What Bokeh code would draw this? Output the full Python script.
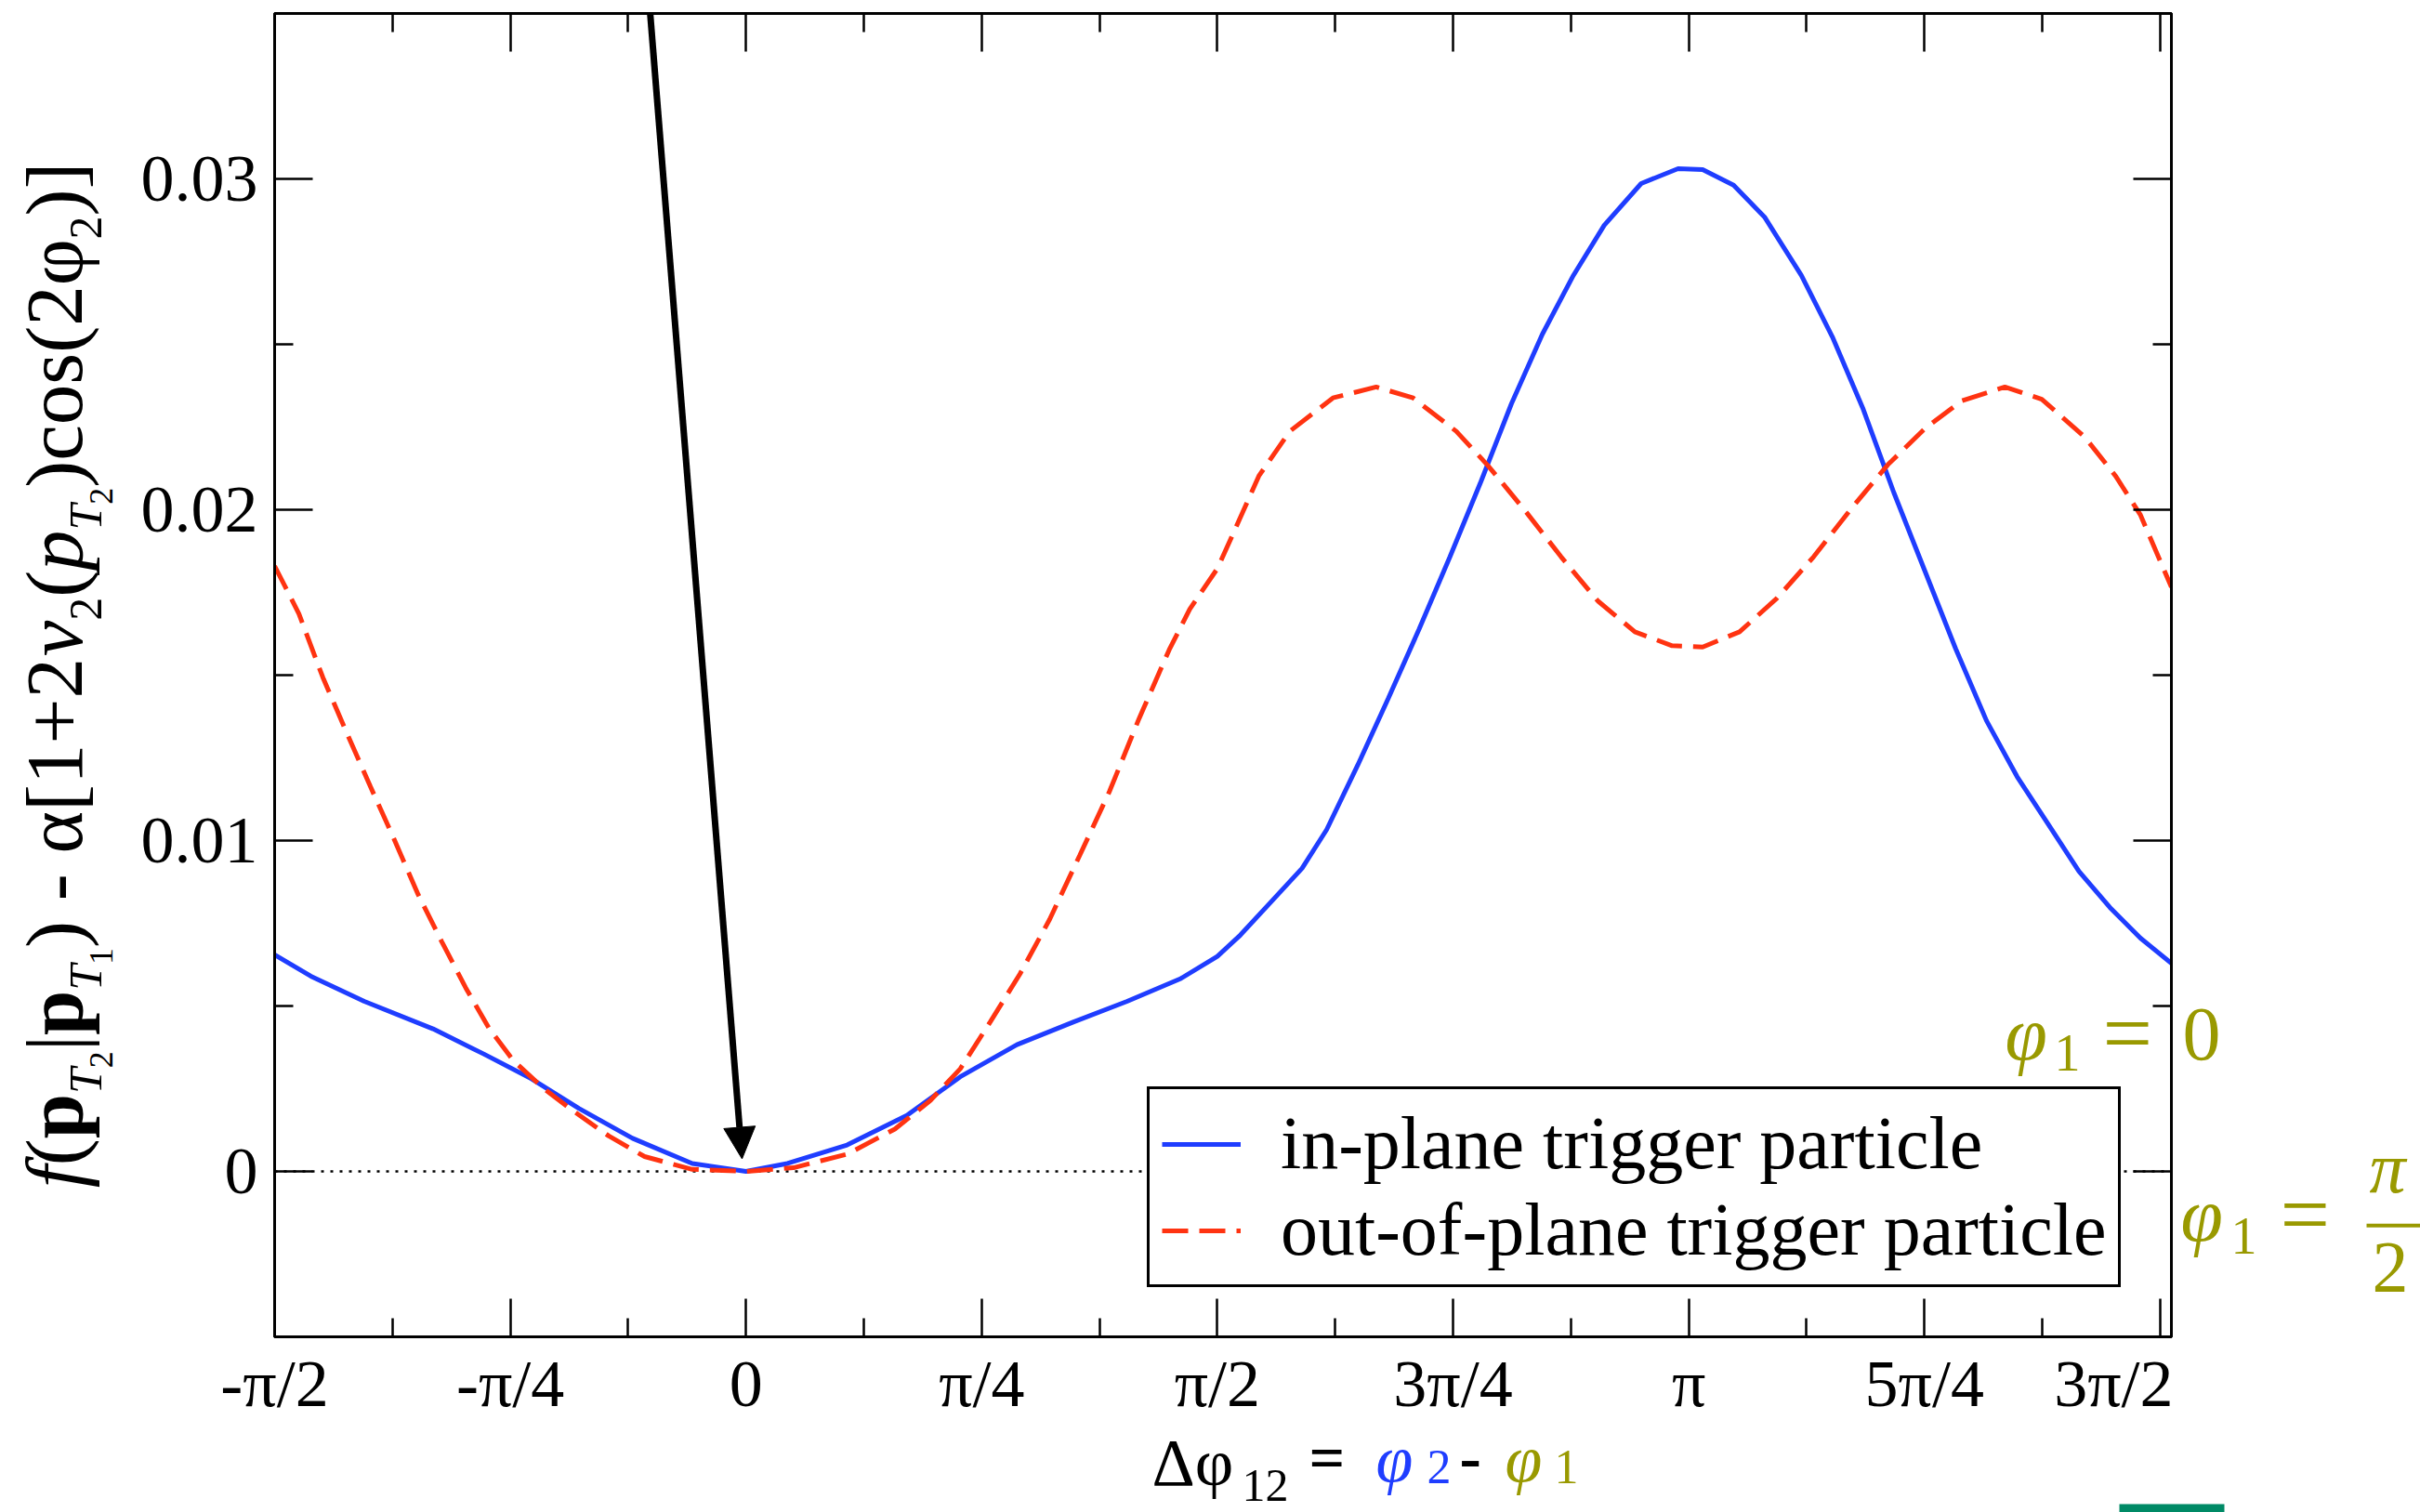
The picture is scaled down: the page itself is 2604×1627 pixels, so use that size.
import math
from bokeh.plotting import figure
from bokeh.layouts import row, column
from bokeh.models import (FixedTicker, LinearAxis, Range1d, Span, Label, Arrow,
                          NormalHead, Legend, LegendItem, BoxAnnotation)
from bokeh.embed import file_html
from bokeh.resources import INLINE

PI = math.pi

# ---------------- data ----------------
in_plane_dphi = [-1.5708, -1.450, -1.272, -1.043, -0.874, -0.715, -0.556, -0.378, -0.179, 0.0,
                 0.138, 0.337, 0.536, 0.714, 0.903, 1.092, 1.270, 1.449, 1.5708, 1.647,
                 1.750, 1.853, 1.935, 2.038, 2.140, 2.243, 2.346, 2.449, 2.551, 2.654,
                 2.757, 2.860, 2.983, 3.106, 3.188, 3.291, 3.394, 3.517, 3.620, 3.723,
                 3.825, 3.928, 4.031, 4.134, 4.236, 4.339, 4.442, 4.545, 4.647, 4.750]
in_plane_val = [0.00655, 0.00590, 0.00514, 0.00431, 0.00355, 0.00280, 0.00190, 0.00100, 0.00024, 0.0,
                0.00024, 0.00080, 0.00169, 0.00286, 0.00383, 0.00452, 0.00514, 0.00583, 0.00650, 0.00714,
                0.00815, 0.00916, 0.01033, 0.01227, 0.01429, 0.01639, 0.01858, 0.02085, 0.02321, 0.02531,
                0.02708, 0.02860, 0.02986, 0.03031, 0.03028, 0.02981, 0.02885, 0.02708, 0.02523, 0.02304,
                0.02052, 0.01816, 0.01580, 0.01362, 0.01193, 0.01050, 0.00907, 0.00798, 0.00705, 0.00629]

out_plane_dphi = [-1.5708, -1.490, -1.410, -1.331, -1.251, -1.172, -1.093, -1.013, -0.934, -0.855,
                  -0.775, -0.676, -0.576, -0.457, -0.338, -0.179, 0.0, 0.158, 0.337, 0.496,
                  0.615, 0.714, 0.814, 0.913, 1.012, 1.112, 1.211, 1.310, 1.410, 1.479,
                  1.5708, 1.627, 1.709, 1.812, 1.956, 2.100, 2.223, 2.367, 2.470, 2.593,
                  2.716, 2.839, 2.962, 3.086, 3.188, 3.311, 3.435, 3.558, 3.681, 3.805,
                  3.928, 4.051, 4.195, 4.318, 4.461, 4.564, 4.647, 4.750]
out_plane_val = [0.01830, 0.01686, 0.01493, 0.01327, 0.01162, 0.01003, 0.00838, 0.00693, 0.00555, 0.00431,
                 0.00335, 0.00252, 0.00183, 0.00107, 0.00045, 0.00006, 0.0, 0.00011, 0.00052, 0.00128,
                 0.00215, 0.00310, 0.00452, 0.00597, 0.00762, 0.00955, 0.01148, 0.01369, 0.01576, 0.01700,
                 0.01822, 0.01935, 0.02102, 0.02237, 0.02338, 0.02371, 0.02338, 0.02237, 0.02136, 0.02001,
                 0.01858, 0.01724, 0.01631, 0.01589, 0.01585, 0.01631, 0.01732, 0.01858, 0.02001, 0.02136,
                 0.02245, 0.02329, 0.02371, 0.02334, 0.02220, 0.02102, 0.01984, 0.01766]

series_labels = ["in-plane trigger particle", "out-of-plane trigger particle"]

x_tick_values = [-PI / 2, -PI / 4, 0.0, PI / 4, PI / 2, 3 * PI / 4, PI, 5 * PI / 4, 3 * PI / 2]
x_tick_labels = ["-π/2", "-π/4", "0", "π/4", "π/2", "3π/4", "π", "5π/4", "3π/2"]
x_minor_values = [-3 * PI / 8 + k * PI / 4 for k in range(8)]
y_tick_values = [0.0, 0.01, 0.02, 0.03]
y_tick_labels = ["0", "0.01", "0.02", "0.03"]
y_minor_values = [-0.005, 0.005, 0.015, 0.025, 0.035]

arrow_x = [-0.3227, -0.0131]
arrow_y = [0.03539, 0.00038]

X_MIN, X_MAX = -PI / 2, 4.75
Y_MIN, Y_MAX = -0.005, 0.035

# ---------------- layout (window pixels) ----------------
W_TOTAL, H_TOTAL = 2604, 1627
LEFT_W = 140
TOP_H = 1531
FRAME_L, FRAME_T, FRAME_W, FRAME_H = 295, 14, 2041, 1427
FRAME_B = FRAME_T + FRAME_H
MAIN_W = FRAME_L - LEFT_W + FRAME_W + 2
RIGHT_X0 = LEFT_W + MAIN_W
RIGHT_W = W_TOTAL - RIGHT_X0
PX_X = FRAME_W / (X_MAX - X_MIN)
PX_Y = FRAME_H / (Y_MAX - Y_MIN)
CORR = 0.37   # baseline correction (fraction of font size)


def dx(X):
    return X_MIN + (X - FRAME_L) / PX_X


def dy(Y):
    return Y_MIN + (FRAME_B - Y) / PX_Y


SERIF = "Liberation Serif"
BLUE = "#1f3dff"
RED = "#ff3311"
OLIVE = "#999900"

p = figure(width=MAIN_W, height=TOP_H,
           min_border_left=FRAME_L - LEFT_W, min_border_top=FRAME_T,
           min_border_right=2, min_border_bottom=TOP_H - FRAME_B,
           x_range=Range1d(X_MIN, X_MAX), y_range=Range1d(Y_MIN, Y_MAX),
           output_backend="svg", toolbar_location=None)
p.xgrid.visible = False
p.ygrid.visible = False
p.outline_line_color = "black"
p.outline_line_width = 3


def style_axis(ax, ticks, minor, labels, show_labels, standoff):
    ax.ticker = FixedTicker(ticks=ticks, minor_ticks=minor)
    ax.axis_line_color = "black"
    ax.axis_line_width = 3
    ax.major_tick_in = 41
    ax.major_tick_out = 0
    ax.minor_tick_in = 20
    ax.minor_tick_out = 0
    ax.major_tick_line_width = 2.5
    ax.minor_tick_line_width = 2.5
    ax.major_tick_line_color = "black"
    ax.minor_tick_line_color = "black"
    if show_labels:
        ax.major_label_overrides = {t: l for t, l in zip(ticks, labels)}
        ax.major_label_text_font = SERIF
        ax.major_label_text_font_size = "72px"
        ax.major_label_text_color = "black"
        ax.major_label_standoff = standoff
    else:
        ax.major_label_overrides = {t: "" for t in ticks}
        ax.major_label_text_font_size = "0px"
        ax.major_label_standoff = 0


style_axis(p.xaxis[0], x_tick_values, x_minor_values, x_tick_labels, True, 10)
style_axis(p.yaxis[0], y_tick_values, y_minor_values, y_tick_labels, True, 18)
top_ax = LinearAxis()
right_ax = LinearAxis()
style_axis(top_ax, x_tick_values, x_minor_values, x_tick_labels, False, 0)
style_axis(right_ax, y_tick_values, y_minor_values, y_tick_labels, False, 0)
p.add_layout(top_ax, "above")
p.add_layout(right_ax, "right")

# dotted zero line
p.add_layout(Span(location=0, dimension="width", line_color="black", line_width=2.5,
                  line_dash="3 7", level="underlay"))

r_in = p.line(in_plane_dphi, in_plane_val, line_color=BLUE, line_width=5)
r_out = p.line(out_plane_dphi, out_plane_val, line_color=RED, line_width=5, line_dash="28 12")

legend = Legend(items=[LegendItem(label=series_labels[0], renderers=[r_in]),
                       LegendItem(label=series_labels[1], renderers=[r_out])],
                location=(1234 - FRAME_L, FRAME_B - 1388), margin=0,
                padding=13, spacing=2, glyph_width=85, glyph_height=80, label_height=80,
                label_standoff=43, label_text_font=SERIF, label_text_font_size="80px",
                label_text_color="black", border_line_color="black", border_line_width=3,
                border_line_alpha=1.0, background_fill_color="white", background_fill_alpha=1.0)
p.add_layout(legend)

# arrow pointing at the minimum
p.add_layout(Arrow(x_start=arrow_x[0], y_start=arrow_y[0], x_end=arrow_x[1], y_end=arrow_y[1],
                   line_color="black", line_width=7,
                   end=NormalHead(size=34, fill_color="black", line_color="black")))


def add_label(fig, X, Y, text, size, color="black", style="normal", rotated=False, main=False):
    """X, Y: window pixels of the text baseline start."""
    if rotated:
        X = X - CORR * size
    else:
        Y = Y - CORR * size
    if main:
        x, y = dx(X), dy(Y)
    else:
        x, y = X, Y
    fig.add_layout(Label(x=x, y=y, text=text, text_font=SERIF, text_font_size=f"{size}px",
                         text_font_style=style, text_color=color,
                         angle=PI / 2 if rotated else 0.0,
                         text_align="left", text_baseline="alphabetic"))


# "phi_1 = " part of the first annotation sits inside the frame
add_label(p, 2157, 1145, "φ", 82, OLIVE, "italic", main=True)
add_label(p, 2210, 1156, "1", 56, OLIVE, main=True)
add_label(p, 2262, 1149, "=", 95, OLIVE, main=True)


def strip(w, x0, y_top, y_bot, h):
    f = figure(width=w, height=h, x_range=Range1d(x0, x0 + w), y_range=Range1d(y_bot, y_top),
               x_axis_location=None, y_axis_location=None, min_border=0,
               output_backend="svg", toolbar_location=None)
    f.outline_line_color = None
    f.grid.visible = False
    f.background_fill_color = "white"
    f.border_fill_color = "white"
    return f


# ---------------- left strip: rotated y title ----------------
L = strip(LEFT_W, 0, FRAME_T, FRAME_B, TOP_H)
W_ROMAN = {"(": 333, ")": 333, "[": 333, "]": 333, "|": 200, "-": 333, " ": 250, "+": 564,
           "1": 500, "2": 500, "c": 444, "o": 500, "s": 389, "α": 550, "φ": 580}
W_ITAL = {"f": 278, "T": 556, "v": 444, "p": 500}
W_BOLD = {"p": 556}
F, S, SS = 87, 50, 36
d1, d2 = 20, 32
pieces = [("f", "italic", F, 0), ("(", "normal", F, 0), ("p", "bold", F, 0), ("T", "italic", S, d1),
          ("2", "normal", SS, d2), ("|", "normal", F, 0), ("p", "bold", F, 0), ("T", "italic", S, d1),
          ("1", "normal", SS, d2), (") - α[1+2", "normal", F, 0), ("v", "italic", F, 0),
          ("2", "normal", S, d1), ("(", "normal", F, 0), ("p", "italic", F, 0), ("T", "italic", S, d1),
          ("2", "normal", SS, d2), (")cos(2φ", "normal", F, 0), ("2", "normal", S, d1),
          (")]", "normal", F, 0)]


def text_width(text, style, size):
    table = {"normal": W_ROMAN, "italic": W_ITAL, "bold": W_BOLD}[style]
    return sum(table.get(ch, W_ROMAN.get(ch, 500)) for ch in text) * size / 1000.0


total = sum(text_width(t, s, z) for t, s, z, _ in pieces)
Ycur = FRAME_T + FRAME_H / 2 + total / 2
BASE_X = 90
for t, s, z, sh in pieces:
    add_label(L, BASE_X + sh, Ycur, t, z, style=s, rotated=True)
    Ycur -= text_width(t, s, z)

# ---------------- right strip: phi_1 values ----------------
R = strip(RIGHT_W, RIGHT_X0, FRAME_T, FRAME_B, TOP_H)
add_label(R, 2348, 1145, "0", 82, OLIVE)
add_label(R, 2346, 1340, "φ", 82, OLIVE, "italic")
add_label(R, 2400, 1353, "1", 56, OLIVE)
add_label(R, 2453, 1344, "=", 95, OLIVE)
add_label(R, 2549, 1287, "π", 78, OLIVE, "italic")
add_label(R, 2552, 1395, "2", 78, OLIVE)
R.add_layout(BoxAnnotation(left=2546, right=W_TOTAL, top=1319, bottom=1323,
                           fill_color=OLIVE, fill_alpha=1.0, line_color=None))

# ---------------- bottom strip: x title ----------------
B = strip(W_TOTAL, 0, TOP_H, H_TOTAL, H_TOTAL - TOP_H)
add_label(B, 1239, 1600, "Δφ", 72)
add_label(B, 1336, 1616, "12", 50)
add_label(B, 1408, 1593, "=", 68, style="bold")
add_label(B, 1480, 1596, "φ", 72, BLUE, "italic")
add_label(B, 1535, 1597, "2", 52, BLUE)
add_label(B, 1570, 1594, "-", 70, style="bold")
add_label(B, 1619, 1596, "φ", 72, OLIVE, "italic")
add_label(B, 1672, 1597, "1", 52, OLIVE)
B.add_layout(BoxAnnotation(left=2280, right=2393, top=1618, bottom=H_TOTAL,
                           fill_color="#008a66", fill_alpha=1.0, line_color=None))

layout = column(row(L, p, R, spacing=0), B, spacing=0)
open("out.html", "w").write(file_html(layout, INLINE))
